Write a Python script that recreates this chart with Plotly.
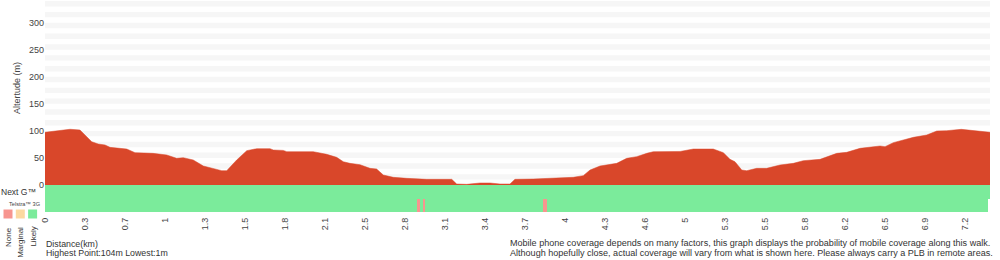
import plotly.graph_objects as go

# ---------------- data ----------------
dist_km = [0.000, 0.117, 0.196, 0.274, 0.313, 0.366, 0.417, 0.470, 0.509, 0.640,
           0.705, 0.846, 0.953, 1.031, 1.083, 1.161, 1.240, 1.318, 1.384, 1.423,
           1.501, 1.580, 1.658, 1.762, 1.788, 1.866, 1.893, 2.101, 2.206, 2.284,
           2.336, 2.388, 2.467, 2.545, 2.597, 2.649, 2.727, 2.832, 2.989, 3.185,
           3.224, 3.302, 3.406, 3.485, 3.563, 3.641, 3.680, 3.824, 3.980, 4.137,
           4.215, 4.268, 4.346, 4.477, 4.555, 4.633, 4.712, 4.763, 4.973, 5.077,
           5.233, 5.312, 5.364, 5.403, 5.456, 5.495, 5.573, 5.651, 5.756, 5.860,
           5.938, 6.069, 6.200, 6.278, 6.382, 6.539, 6.578, 6.643, 6.800, 6.904,
           6.983, 7.061, 7.175, 7.253, 7.400]
elev_m = [97.4, 100.4, 103, 101.7, 92.4, 80, 75.8, 74, 69.6, 66.5,
          59.8, 58.5, 55.5, 49.3, 50.5, 46.2, 35.1, 30.8, 26.5, 26.5,
          46.2, 63.5, 67.2, 67.2, 64.7, 64, 61.6, 61.6, 56.7, 51.1,
          43.1, 40, 37.5, 30.8, 29.6, 18.5, 14.2, 12.3, 10.5, 10.5,
          1.8, 1.2, 3.7, 3.7, 1.8, 1.8, 10.5, 11.1, 12.3, 14.2,
          17.3, 27.7, 35.1, 40, 49.3, 52.4, 58.5, 61.6, 62, 66.5,
          66.5, 59.8, 47.4, 43.1, 27.7, 26.5, 30.8, 30.8, 37, 40,
          45, 47.4, 58.5, 60.4, 67.8, 72.1, 70.9, 78.3, 88.1, 92.4,
          99.8, 100.4, 102.9, 101, 97.4]

total_km = 7.4
x_tick_labels = ["0", "0.3", "0.7", "1", "1.3", "1.5", "1.8", "2.1", "2.5", "2.8",
                 "3.1", "3.4", "3.7", "4", "4.3", "4.6", "5", "5.3", "5.5", "5.8",
                 "6.2", "6.5", "6.9", "7.2"]
y_tick_vals = [0, 50, 100, 150, 200, 250, 300]

# coverage segments (edges in km) ; 2 = likely, 1 = marginal, 0 = none
cov_edges = [0.0, 2.911, 2.937, 2.958, 2.976, 3.902, 3.929, 7.382, 7.400]
cov_3g = [2, 0, 2, 0, 2, 0, 2, None]
cov_nextg = [2, 2, 2, 2, 2, 2, 2, 2]

legend_labels = ["None", "Marginal", "Likely"]
info_left = ["Distance(km)", "Highest Point:104m Lowest:1m"]
info_right = ["Mobile phone coverage depends on many factors, this graph displays the probability of mobile coverage along this walk.",
              "Although hopefully close, actual coverage will vary from what is shown here. Please always carry a PLB in remote areas."]

COL_NONE = "#f7958f"
COL_MARG = "#fcd9a0"
COL_LIKE = "#7beb9b"
COL_ELEV = "#d9472a"
FONT = "Liberation Sans, Arial, sans-serif"

# ---------------- figure ----------------
W, H = 1000, 260
ML, MR, MT, MB = 45, 10, 0, 48
PW, PH = W - ML - MR, H - MT - MB
band_px = 27
band_frac = band_px / PH


def px2paper_x(px):
    return (px - ML) / PW


def px2paper_y(py):
    return (H - MB - py) / PH


fig = go.Figure()

fig.add_trace(go.Scatter(
    x=dist_km, y=elev_m, mode="lines", fill="tozeroy",
    line=dict(color=COL_ELEV, width=0.5), fillcolor=COL_ELEV,
    hoverinfo="skip", showlegend=False, xaxis="x", yaxis="y"))

fig.add_trace(go.Heatmap(
    x=cov_edges, y=[0, 1], z=[cov_3g, cov_nextg],
    zmin=0, zmax=2,
    colorscale=[[0, COL_NONE], [0.5, COL_MARG], [1, COL_LIKE]],
    showscale=False, hoverinfo="skip", xaxis="x", yaxis="y2"))

tick_step = total_km * 40 / PW
fig.update_layout(
    width=W, height=H,
    margin=dict(l=ML, r=MR, t=MT, b=MB, pad=0),
    paper_bgcolor="white", plot_bgcolor="white",
    font=dict(family=FONT, color="#444", size=9),
    xaxis=dict(range=[0, total_km], anchor="y2", showgrid=False, zeroline=False,
               showline=False, ticks="",
               tickvals=[i * tick_step for i in range(len(x_tick_labels))],
               ticktext=x_tick_labels, tickangle=-90, ticklabelstandoff=3,
               tickfont=dict(size=9, color="#444")),
    yaxis=dict(domain=[band_frac, 1], range=[0, 342], showgrid=False, zeroline=False,
               showline=False, ticks="", tickvals=y_tick_vals,
               tickfont=dict(size=9, color="#444")),
    yaxis2=dict(domain=[0, band_frac], range=[-0.5, 1.5], showgrid=False,
                zeroline=False, showticklabels=False, ticks="", anchor="x"),
)

shapes = []
lo = 10
while lo < 342:
    shapes.append(dict(type="rect", xref="paper", yref="y", x0=0, x1=1,
                       y0=lo, y1=min(lo + 10, 342), fillcolor="#f6f6f6",
                       line=dict(width=0), layer="below"))
    lo += 20
# legend swatches
for i, col in enumerate([COL_NONE, COL_MARG, COL_LIKE]):
    x0 = 3.5 + i * 12.3
    shapes.append(dict(type="rect", xref="paper", yref="paper",
                       x0=px2paper_x(x0), x1=px2paper_x(x0 + 9),
                       y0=px2paper_y(218.5), y1=px2paper_y(209.5),
                       fillcolor=col, line=dict(width=0)))
fig.update_layout(shapes=shapes)

ann = []
ann.append(dict(text="Altertude (m)", xref="paper", yref="paper",
                x=px2paper_x(17), y=px2paper_y(88), textangle=-90,
                showarrow=False, font=dict(size=9, color="#444"),
                xanchor="center", yanchor="middle"))
ann.append(dict(text="Next G™", xref="paper", yref="paper",
                x=px2paper_x(-1), y=px2paper_y(192), showarrow=False,
                font=dict(size=8.5, color="#333"), xanchor="left", yanchor="middle"))
ann.append(dict(text="Telstra™ 3G", xref="paper", yref="paper",
                x=px2paper_x(7), y=px2paper_y(204), showarrow=False,
                font=dict(size=5.6, color="#444"), xanchor="left", yanchor="middle"))
for i, lab in enumerate(legend_labels):
    ann.append(dict(text=lab, xref="paper", yref="paper",
                    x=px2paper_x(8 + i * 12.3), y=px2paper_y(225), textangle=-90,
                    showarrow=False, font=dict(size=8, color="#333"),
                    xanchor="center", yanchor="top"))
for i, line in enumerate(info_left):
    ann.append(dict(text=line, xref="paper", yref="paper",
                    x=px2paper_x(44), y=px2paper_y(244 + 9.5 * i),
                    showarrow=False, align="left", xanchor="left", yanchor="middle",
                    font=dict(size=8.8, color="#333")))
for i, line in enumerate(info_right):
    ann.append(dict(text=line, xref="paper", yref="paper",
                    x=px2paper_x(507.5), y=px2paper_y(243 + 9.5 * i),
                    showarrow=False, align="left", xanchor="left", yanchor="middle",
                    font=dict(size=9.05, color="#333")))
fig.update_layout(annotations=ann)

fig.write_html("out.html")
